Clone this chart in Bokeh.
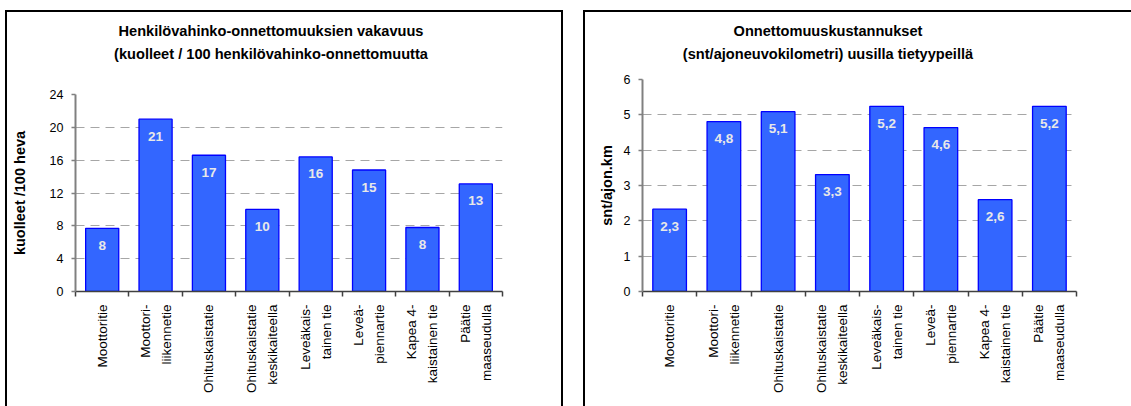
import math
from bokeh.plotting import figure
from bokeh.layouts import row, column
from bokeh.models import ColumnDataSource, FixedTicker, Div
from bokeh.embed import file_html
from bokeh.resources import INLINE
from bokeh.core.properties import value

# ---- data ----
categories = ["Moottoritie", "Moottori-\nliikennetie", "Ohituskaistatie",
              "Ohituskaistatie\nkeskikaiteella", "Leveäkais-\ntainen tie",
              "Leveä-\npiennartie", "Kapea 4-\nkaistainen tie", "Päätie\nmaaseudulla"]
severity = [7.7, 21.0, 16.6, 10.0, 16.4, 14.8, 7.8, 13.1]
costs = [2.33, 4.81, 5.09, 3.31, 5.24, 4.64, 2.60, 5.24]
severity_ticks = [0, 4, 8, 12, 16, 20, 24]
cost_ticks = [0, 1, 2, 3, 4, 5, 6]
title_left = ["Henkilövahinko-onnettomuuksien vakavuus",
              "(kuolleet / 100 henkilövahinko-onnettomuutta"]
title_right = ["Onnettomuuskustannukset",
               "(snt/ajoneuvokilometri) uusilla tietyypeillä"]
ylabel_left = "kuolleet /100 heva"
ylabel_right = "snt/ajon.km"

FONT = "Liberation Sans"


def make_panel(vals, fmt, yticks, titles, ylabel, fw, fh, borders, margin, title_w,
               ylab_standoff):
    n = len(categories)
    centers = [i + 0.5 for i in range(n)]
    bl, br, bt, bb = borders
    p = figure(frame_width=fw, frame_height=fh, x_range=(0, n),
               y_range=(yticks[0], yticks[-1]), title=None,
               output_backend="svg", toolbar_location=None,
               min_border_left=bl, min_border_right=br,
               min_border_top=bt, min_border_bottom=bb, margin=0)
    p.outline_line_color = None
    p.background_fill_color = "white"
    p.border_fill_color = "white"

    src = ColumnDataSource(dict(x=centers, top=vals,
                                lab=[fmt(v) for v in vals]))
    p.vbar(x="x", top="top", bottom=0, width=0.62, source=src,
           fill_color="#3366FF", line_color="#0000FF", line_width=1.3)
    p.text(x="x", y="top", text="lab", source=src, y_offset=17,
           text_align="center", text_baseline="middle",
           text_font=value(FONT), text_font_size="13.5px",
           text_font_style="bold", text_color="#E8E8E8")

    # x axis: labels at category centres, tick marks between categories
    xa = p.xaxis[0]
    xa.ticker = FixedTicker(ticks=centers, minor_ticks=list(range(n + 1)))
    xa.major_label_overrides = {c: lab for c, lab in zip(centers, categories)}
    xa.major_label_orientation = math.pi / 2
    xa.major_tick_out = 0
    xa.major_tick_in = 0
    xa.minor_tick_out = 5
    xa.minor_tick_in = 0
    xa.minor_tick_line_color = "#404040"
    xa.minor_tick_line_width = 1.5
    xa.axis_line_color = "#404040"
    xa.axis_line_width = 1.5
    xa.major_label_standoff = 8
    xa.major_label_text_font = FONT
    xa.major_label_text_font_size = "13.5px"
    xa.major_label_text_color = "black"
    xa.major_label_text_align = "center"
    xa.major_label_text_line_height = 1.4

    # y axis
    ya = p.yaxis[0]
    ya.ticker = FixedTicker(ticks=yticks)
    ya.major_tick_out = 4
    ya.major_tick_in = 0
    ya.minor_tick_out = 0
    ya.minor_tick_in = 0
    ya.major_tick_line_color = "#808080"
    ya.major_tick_line_width = 1.5
    ya.axis_line_color = "#808080"
    ya.axis_line_width = 2
    ya.major_label_standoff = 8
    ya.major_label_text_font = FONT
    ya.major_label_text_font_size = "12.5px"
    ya.major_label_text_color = "black"
    ya.axis_label = ylabel
    ya.axis_label_text_font = FONT
    ya.axis_label_text_font_size = "14.5px"
    ya.axis_label_text_font_style = "bold"
    ya.axis_label_text_color = "black"
    ya.axis_label_standoff = ylab_standoff

    p.xgrid.visible = False
    p.ygrid.ticker = FixedTicker(ticks=yticks)
    p.ygrid.grid_line_color = "#A6A6A6"
    p.ygrid.grid_line_dash = "9 6"
    p.ygrid.grid_line_width = 1

    html = ("<div style=\"display:block;width:%dpx;font-family:'Liberation Sans',Arial,sans-serif;"
            "font-weight:bold;font-size:14.6px;line-height:23px;text-align:center;padding-top:8px;"
            "color:black;white-space:nowrap\">" % title_w + "<br>".join(titles) + "</div>")
    d = Div(text=html, width=title_w, height=58, margin=0)
    return column(d, p, margin=margin, spacing=0,
                  styles={"outline": "2px solid black", "background": "white"})


c1 = make_panel(severity, lambda v: f"{v:.0f}", severity_ticks, title_left, ylabel_left,
                427, 197, (68, 59, 24, 115), (12, 0, 0, 7), 528, 19)
c2 = make_panel(costs, lambda v: f"{v:.1f}".replace(".", ","), cost_ticks, title_right,
                ylabel_right, 434, 212, (57, 55, 9, 115), (12, 0, 0, 24), 486, 6)

layout = row(c1, c2, spacing=0)
open("out.html", "w").write(file_html(layout, INLINE))
